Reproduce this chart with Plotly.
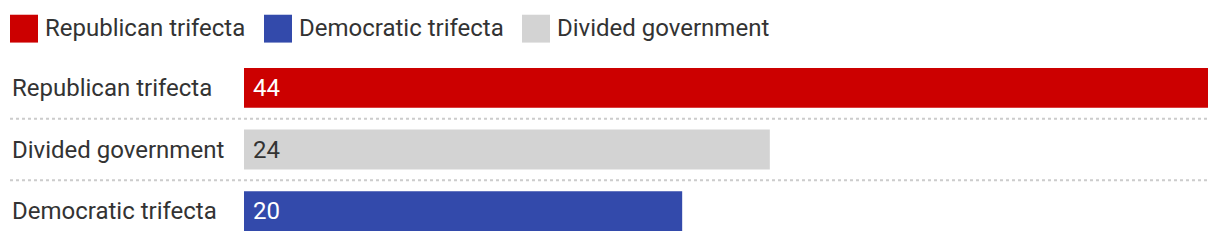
import plotly.graph_objects as go

# ---- data ----
categories = ["Republican trifecta", "Divided government", "Democratic trifecta"]
values = [44, 24, 20]
bar_colors = ["#cc0000", "#d3d3d3", "#334aab"]
label_colors = ["#ffffff", "#333333", "#ffffff"]

legend_labels = ["Republican trifecta", "Democratic trifecta", "Divided government"]
legend_colors = ["#cc0000", "#334aab", "#d3d3d3"]

# ---- layout geometry (pixels) ----
W, H = 1220, 244
ML, MR, MT, MB = 244, 12, 56.5, 1.5
PW = W - ML - MR
PH = H - MT - MB
FONT = "Roboto, 'Noto Sans', sans-serif"
TXT = "#333333"
FS = 24

def px_x(px):
    return (px - ML) / PW

def px_y(py):
    return (H - MB - py) / PH

fig = go.Figure()
fig.add_trace(go.Bar(
    x=values, y=categories, orientation="h",
    marker=dict(color=bar_colors, line=dict(width=0)),
    hoverinfo="skip", showlegend=False,
))

annotations = []
shapes = []

# category labels (left aligned) and value labels (inside bar start)
for cat, v, lc in zip(categories, values, label_colors):
    annotations.append(dict(
        x=px_x(10), xref="paper", y=cat, yref="y", text=cat,
        xanchor="left", yanchor="middle", showarrow=False,
        font=dict(family=FONT, size=FS, color=TXT),
    ))
    annotations.append(dict(
        x=0, xref="x", y=cat, yref="y", text=str(v), xshift=7,
        xanchor="left", yanchor="middle", showarrow=False,
        font=dict(family=FONT, size=FS, color=lc),
    ))

# dotted separators between rows
for yy in [0.5, 1.5]:
    shapes.append(dict(
        type="line", xref="paper", yref="y",
        x0=px_x(10), x1=px_x(1208), y0=yy, y1=yy,
        line=dict(color="#cccccc", width=2, dash="dot"),
    ))

# custom legend
legend_x = [10, 264, 522]
for lx, lab, col in zip(legend_x, legend_labels, legend_colors):
    shapes.append(dict(
        type="rect", xref="paper", yref="paper",
        x0=px_x(lx), x1=px_x(lx + 28), y0=px_y(42), y1=px_y(14),
        fillcolor=col, line=dict(width=0),
    ))
    annotations.append(dict(
        x=px_x(lx + 33), xref="paper", y=px_y(27), yref="paper", text=lab,
        xanchor="left", yanchor="middle", showarrow=False,
        font=dict(family=FONT, size=FS, color=TXT),
    ))

fig.update_layout(
    width=W, height=H,
    margin=dict(l=ML, r=MR, t=MT, b=MB, pad=0),
    paper_bgcolor="white", plot_bgcolor="white",
    bargap=1 - 40 / 62,
    showlegend=False,
    xaxis=dict(range=[0, 44], visible=False, fixedrange=True),
    yaxis=dict(categoryorder="array", categoryarray=categories,
               autorange="reversed", visible=False, fixedrange=True),
    annotations=annotations,
    shapes=shapes,
    font=dict(family=FONT, color=TXT),
)

fig.write_html("out.html", config={"displayModeBar": False})
